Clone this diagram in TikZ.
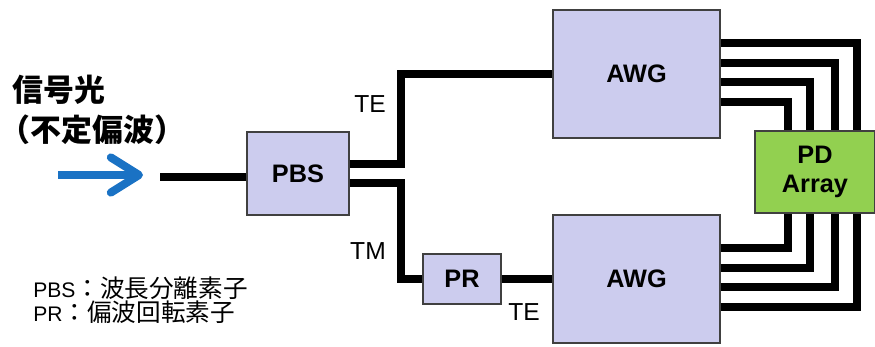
\documentclass[tikz,border=0pt]{standalone}
\usepackage{fontspec}
\setmainfont{Liberation Sans}
\newfontfamily\cjk{Noto Sans CJK JP}
\usetikzlibrary{arrows.meta, positioning, calc}
\definecolor{clav}{HTML}{CCCCEE}
\definecolor{cgreen}{HTML}{92D050}
\definecolor{cblue}{HTML}{1A72C4}
\definecolor{cline}{HTML}{404040}
\tikzset{
  box/.style={draw=cline, fill=#1, line width=0.8pt, align=center, inner sep=0pt, font=\fontsize{14.4}{16.5}\selectfont\bfseries},
  box/.default=clav,
  wire/.style={draw=black, line width=4.4pt},
  sig/.style={-{Straight Barb[length=16pt, width=20pt, round]}, draw=cblue, line width=4.6pt},
  pol/.style={font=\fontsize{14}{16}\selectfont},
  title/.style={font=\cjk\bfseries\fontsize{17.6}{23}\selectfont, align=left, inner sep=0pt},
  note/.style={font=\fontsize{12}{13.7}\selectfont, align=left, inner sep=0pt},
}
\begin{document}
\begin{tikzpicture}[x=0.02cm, y=-0.02cm]
  \useasboundingbox (0,0) rectangle (875,347);
  % blocks
  \node[box, minimum width=2.04cm, minimum height=1.66cm] (pbs) at (298,173.5) {PBS};
  \node[box, minimum width=1.56cm, minimum height=1cm] (pr) at (462,279) {PR};
  \node[box, minimum width=3.34cm, minimum height=2.56cm] (awg1) at (636.5,74) {AWG};
  \node[box, minimum width=3.34cm, minimum height=2.56cm] (awg2) at (636.5,279) {AWG};
  \node[box=cgreen, minimum width=2.4cm, minimum height=1.64cm] (pd) at (815,172) {PD\\Array};

  % input light
  \coordinate (a0) at (58,175);
  \coordinate (a1) at (143,175);
  \draw[sig] (a0) -- (a1);
  \node[title, anchor=west] (sigtext) at (12,110) {信号光\\\hspace*{-0.4em}（不定偏波）};

  % waveguides
  \coordinate (in) at (160,177);
  \coordinate (kink) at (401,0);
  \draw[wire] (in) -- (in -| pbs.west);
  \draw[wire] ([yshift=5.2pt]pbs.east) -| (kink |- awg1.west) -- (awg1.west);
  \draw[wire] ([yshift=-5.6pt]pbs.east) -| (kink |- pr.west) -- (pr.west);
  \draw[wire] (pr) -- (awg2);
  \foreach \i/\x/\y in {1/857/43, 2/835/63, 3/810/82, 4/788/102} {
    \coordinate (u\i) at (\x,\y);
    \draw[wire] (awg1.east |- u\i) -- (u\i) -- (u\i |- pd.north);
  }
  \foreach \i/\x/\y in {1/788/248, 2/810/268, 3/835/287, 4/857/307} {
    \coordinate (l\i) at (\x,\y);
    \draw[wire] (awg2.east |- l\i) -- (l\i) -- (l\i |- pd.south);
  }

  % polarisation labels
  \node[pol] (te1) at (370,104) {TE};
  \node[pol] (tm) at (368,251) {TM};
  \node[pol] (te2) at (524,312) {TE};

  % legend
  \node[note, anchor=west] (legend) at (33,300) {PBS{\cjk\fontsize{14}{13.7}\selectfont ：波長分離素子}\\PR{\cjk\fontsize{14}{13.7}\selectfont ：偏波回転素子}};
\end{tikzpicture}
\end{document}
